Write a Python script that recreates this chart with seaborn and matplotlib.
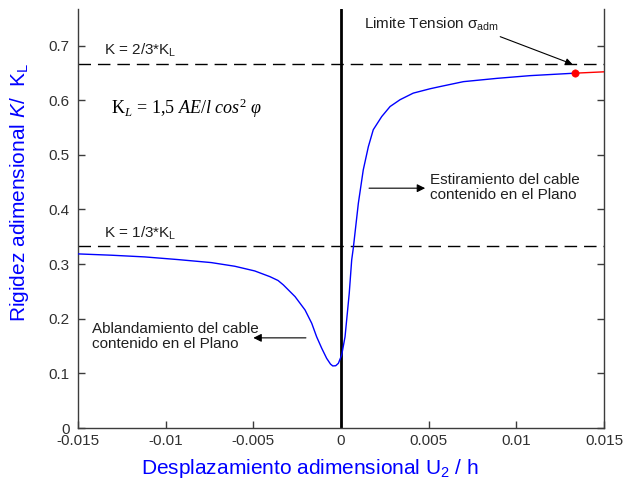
import numpy as np
import pandas as pd
import matplotlib
matplotlib.use("Agg")
import matplotlib.pyplot as plt
import seaborn as sns

# Dimensionless stiffness K/K_L versus dimensionless displacement U2/h
u_blue = [-0.0150, -0.0131, -0.0112, -0.0093, -0.0074, -0.00606, -0.00492,
          -0.00405, -0.00359, -0.00329, -0.00262, -0.00205, -0.00167, -0.00139,
          -0.00110, -0.00082, -0.00060, -0.00047, -0.00030, -0.00015, 0.00004,
          0.00023, 0.00036, 0.00047, 0.00061, 0.00070, 0.00099, 0.00127,
          0.00156, 0.00184, 0.00232, 0.00280, 0.00337, 0.00412, 0.00508,
          0.00565, 0.00698, 0.00888, 0.01078, 0.01332]
k_blue = [0.3187, 0.3163, 0.3132, 0.3083, 0.3028, 0.2961, 0.2875,
          0.277, 0.270, 0.262, 0.2405, 0.216, 0.1917, 0.167,
          0.146, 0.1276, 0.1170, 0.1136, 0.1140, 0.1184, 0.1337,
          0.167, 0.210, 0.2466, 0.3077, 0.329, 0.4115, 0.4725,
          0.515, 0.546, 0.570, 0.5885, 0.601, 0.613, 0.621,
          0.625, 0.634, 0.640, 0.645, 0.6495]
u_red = [0.01332, 0.0150]
k_red = [0.6495, 0.652]
u_limit = [0.01332]
k_limit = [0.6495]

k_upper = 2 / 3
k_lower = 1 / 3

x_ticks = [-0.015, -0.01, -0.005, 0, 0.005, 0.01, 0.015]
x_tick_labels = ["-0.015", "-0.01", "-0.005", "0", "0.005", "0.01", "0.015"]
y_ticks = [0, 0.1, 0.2, 0.3, 0.4, 0.5, 0.6, 0.7]
y_tick_labels = ["0", "0.1", "0.2", "0.3", "0.4", "0.5", "0.6", "0.7"]

sns.set_theme(style="white")
plt.rcParams["font.family"] = ["Liberation Sans", "DejaVu Sans"]
plt.rcParams["axes.unicode_minus"] = False
plt.rcParams["mathtext.fontset"] = "custom"
plt.rcParams["mathtext.rm"] = "Liberation Serif"
plt.rcParams["mathtext.it"] = "Liberation Serif:italic"
plt.rcParams["mathtext.sf"] = "Liberation Sans:italic"
plt.rcParams["mathtext.bf"] = "Liberation Serif:bold"

df_blue = pd.DataFrame({"u": u_blue, "k": k_blue})
df_red = pd.DataFrame({"u": u_red, "k": k_red})
df_lim = pd.DataFrame({"u": u_limit, "k": k_limit})

fig = plt.figure(figsize=(6.3, 4.83), dpi=100)
ax = fig.add_axes([78 / 630, 55 / 483, 526 / 630, 419 / 483])

spine_col = "#3c3c3c"
ax.axhline(k_upper, color="black", lw=1.0, dashes=(9, 5), zorder=2)
ax.axhline(k_lower, color="black", lw=1.0, dashes=(9, 5), zorder=2)
ax.axvline(0, color="black", lw=2.0, zorder=2)

sns.lineplot(data=df_blue, x="u", y="k", ax=ax, color="#0000ff", lw=1.0,
             sort=False, estimator=None, zorder=3)
sns.lineplot(data=df_red, x="u", y="k", ax=ax, color="#ff0000", lw=1.0,
             sort=False, estimator=None, zorder=3)
sns.scatterplot(data=df_lim, x="u", y="k", ax=ax, color="#ff0000", s=28,
                edgecolor="#ff0000", zorder=4)

ax.set_xlim(-0.015, 0.015)
ax.set_ylim(0, 0.767)
ax.set_xticks(x_ticks)
ax.set_xticklabels(x_tick_labels)
ax.set_yticks(y_ticks)
ax.set_yticklabels(y_tick_labels)
ax.set_xlabel("")
ax.set_ylabel("")

for side in ["left", "right", "bottom"]:
    ax.spines[side].set_visible(True)
    ax.spines[side].set_color(spine_col)
    ax.spines[side].set_linewidth(1.0)
ax.spines["top"].set_visible(False)
ax.tick_params(axis="both", direction="in", length=5, width=1.0,
               color=spine_col, labelcolor="#303030", labelsize=11)
ax.tick_params(axis="y", right=True, left=True, pad=6)
ax.tick_params(axis="x", bottom=True, top=False, pad=4)

# reference-line labels
ax.text(-0.0135, 0.675, r"K = 2/3*K$_\mathregular{L}$", fontsize=11, color="#202020",
        ha="left", va="bottom")
ax.text(-0.0135, 0.341, r"K = 1/3*K$_\mathregular{L}$", fontsize=11, color="#202020",
        ha="left", va="bottom")
ax.text(-0.0131, 0.585,
        r"$\mathrm{K}_{\mathit{L}}\, = \,\mathit{1{,}5\ AE/l\ cos}^{2}\ \varphi$",
        fontsize=13, color="black", ha="left", va="center")

# annotations
ax.annotate(r"Limite Tension σ$_\mathregular{adm}$", xy=(0.0132, 0.666),
            xytext=(0.0013, 0.738), fontsize=11, color="#202020",
            ha="left", va="center",
            arrowprops=dict(arrowstyle="-|>", color="black", lw=0.8,
                            mutation_scale=10, shrinkA=0, shrinkB=0,
                            relpos=(0.88, 0.2)))
ax.text(0.0051, 0.441, "Estiramiento del cable\ncontenido en el Plano",
        fontsize=11, color="#202020", ha="left", va="center", linespacing=1.1)
ax.annotate("", xy=(0.0048, 0.439), xytext=(0.0016, 0.439),
            arrowprops=dict(arrowstyle="-|>", color="black", lw=0.8,
                            mutation_scale=12, shrinkA=0, shrinkB=0))
ax.text(-0.0142, 0.167, "Ablandamiento del cable\ncontenido en el Plano",
        fontsize=11, color="#202020", ha="left", va="center", linespacing=1.1)
ax.annotate("", xy=(-0.0050, 0.165), xytext=(-0.0020, 0.165),
            arrowprops=dict(arrowstyle="-|>", color="black", lw=0.8,
                            mutation_scale=12, shrinkA=0, shrinkB=0))

# axis titles
fig.text(310 / 630, 1 - 468 / 483, r"Desplazamiento adimensional U$_\mathregular{2}$ / h",
         fontsize=15, color="#0000ff", ha="center", va="center")
fig.text(20 / 630, 1 - 192 / 483,
         r"Rigidez adimensional $\mathsf{K}$/  K$_\mathregular{L}$",
         fontsize=15, color="#0000ff", ha="center", va="center", rotation=90)

fig.savefig("out.png", dpi=100)
